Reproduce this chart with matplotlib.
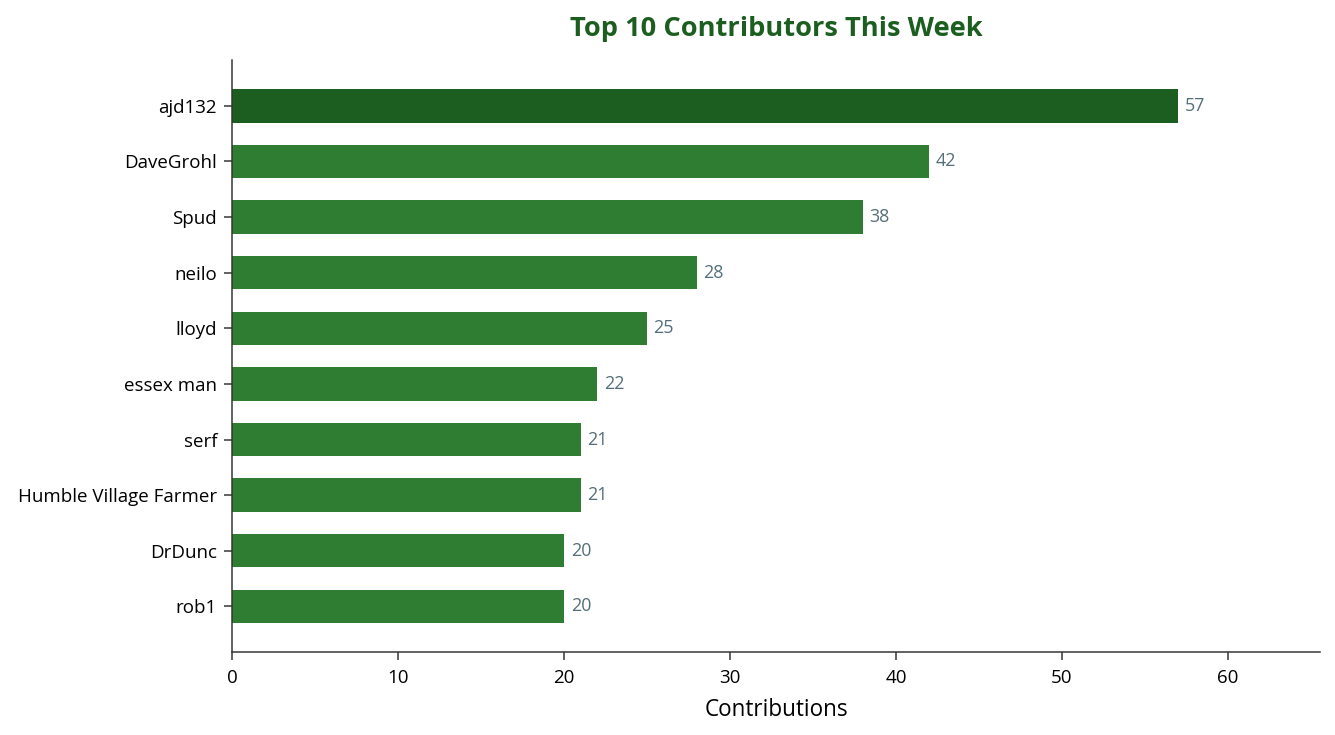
import numpy as np
import matplotlib.pyplot as plt

plt.rcParams['font.family'] = ['Open Sans', 'Noto Sans', 'DejaVu Sans']

names = ["ajd132", "DaveGrohl", "Spud", "neilo", "lloyd", "essex man",
         "serf", "Humble Village Farmer", "DrDunc", "rob1"]
counts = [57, 42, 38, 28, 25, 22, 21, 21, 20, 20]

fig, ax = plt.subplots(figsize=(1335 / 135, 735 / 135), dpi=135)
fig.subplots_adjust(left=0.1738, right=0.9888, top=0.918, bottom=0.113)

y = np.arange(len(names))
colors = ['#1b5e20'] + ['#2e7d32'] * (len(names) - 1)
ax.barh(y, counts, height=0.6, color=colors)
ax.set_yticks(y)
ax.set_yticklabels(names, fontsize=10)
ax.set_ylim(len(names) - 1 + 0.82, -0.82)

for yi, c in zip(y, counts):
    ax.text(c + 0.4, yi, str(c), va='center', ha='left', fontsize=9.5, color='#546e7a')

ax.set_xlim(0, max(counts) * 1.15)
ax.tick_params(axis='x', labelsize=10, length=4.5, pad=4.5)
ax.tick_params(axis='y', length=4.5)
ax.set_xlabel("Contributions", fontsize=12, labelpad=6)
ax.set_title("Top 10 Contributors This Week", fontsize=14.5, fontweight='bold',
             color='#1b5e20', pad=13)
for s in ['top', 'right']:
    ax.spines[s].set_visible(False)
for s in ['left', 'bottom']:
    ax.spines[s].set_color('#333333')
ax.tick_params(colors='#333333', labelcolor='black')

plt.savefig("out.png", dpi=135)
